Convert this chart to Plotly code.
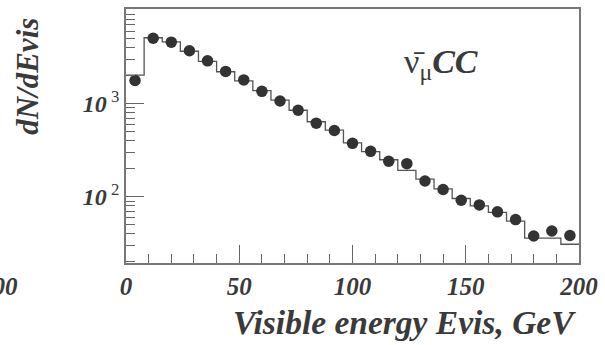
import numpy as np
import plotly.graph_objects as go

# bin edges (GeV) and contents
bin_edges = [0, 8, 16, 24, 32, 40, 48, 56, 64, 72, 80, 88, 96, 104, 112, 120, 128,
             136, 144, 152, 160, 168, 176, 184, 192, 200]
data_counts = [1775, 5040, 4570, 3700, 2880, 2220, 1800, 1355, 1068, 851, 618, 515,
               375, 308, 241, 227, 148, 120, 92, 82, 69, 57, 38, 43, 38.5]
mc_counts = [2020, 5100, 4600, 3650, 2850, 2200, 1760, 1380, 1090, 850, 640, 520,
             380, 305, 250, 192, 155, 122, 96, 80, 68, 55, 36, 36, 31]

x_ticks = [0, 50, 100, 150, 200]
x_minor = [10, 20, 30, 40, 60, 70, 80, 90, 110, 120, 130, 140, 160, 170, 180, 190]
y_ticks = [100, 1000]
y_ticktext = ["<b><i>10</i></b><sup> 2</sup>", "<b><i>10</i></b><sup> 3</sup>"]
y_minor = [20, 30, 40, 50, 60, 70, 80, 90, 200, 300, 400, 500, 600, 700, 800, 900,
           2000, 3000, 4000, 5000, 6000, 7000, 8000, 9000]

edges = np.array(bin_edges, dtype=float)
centers = (edges[:-1] + edges[1:]) / 2

TXT = "#3a3a3a"
FONT = "Liberation Serif"

fig = go.Figure()
fig.add_trace(go.Scatter(
    x=edges, y=list(mc_counts) + [mc_counts[-1]], mode="lines", line_shape="hv",
    line=dict(color="#555555", width=1.3), showlegend=False, hoverinfo="skip"))
fig.add_trace(go.Scatter(
    x=centers, y=data_counts, mode="markers",
    marker=dict(color="#333333", size=11.5, line=dict(width=0)), showlegend=False))

fig.update_layout(
    width=605, height=345, margin=dict(l=126, r=25, t=7, b=82),
    paper_bgcolor="white", plot_bgcolor="white",
    font=dict(family=FONT, color=TXT),
    xaxis=dict(range=[0, 200], tickvals=x_ticks,
               ticktext=[f"<b><i>{v}</i></b>" for v in x_ticks],
               ticks="inside", ticklen=18, tickwidth=1.2, tickcolor="#666",
               showline=True, linecolor="#777", linewidth=1.5, mirror=True,
               showgrid=False, zeroline=False,
               tickfont=dict(size=25, family=FONT, color=TXT),
               minor=dict(tickvals=x_minor, ticks="inside", ticklen=9,
                          tickwidth=1.2, tickcolor="#666", showgrid=False)),
    yaxis=dict(type="log", range=[1.29, 4.016], tickvals=y_ticks, ticktext=y_ticktext,
               ticks="inside", ticklen=18, tickwidth=1.2, tickcolor="#666",
               showline=True, linecolor="#777", linewidth=1.5, mirror=True,
               showgrid=False, zeroline=False,
               tickfont=dict(size=24, family=FONT, color=TXT),
               minor=dict(tickvals=y_minor, ticks="inside", ticklen=9,
                          tickwidth=1.2, tickcolor="#666", showgrid=False)),
)

fig.add_annotation(xref="paper", yref="paper", x=-0.218, y=0.734, textangle=-90,
                   xanchor="center", yanchor="middle",
                   text="<b><i>dN/dEvis</i></b>", showarrow=False,
                   font=dict(size=31, family=FONT, color=TXT))
fig.add_annotation(xref="paper", yref="paper", x=0.6145, y=-0.234,
                   xanchor="center", yanchor="middle",
                   text="<b><i>Visible energy Evis, GeV</i></b>", showarrow=False,
                   font=dict(size=33.5, family=FONT, color=TXT))
fig.add_annotation(xref="paper", yref="paper", x=0.695, y=0.785,
                   xanchor="center", yanchor="middle",
                   text="\u03bd\u0304<sub>\u03bc</sub><b><i>CC</i></b>", showarrow=False,
                   font=dict(size=34, family=FONT, color=TXT))
fig.add_annotation(xref="paper", yref="paper", x=-0.234, y=-0.094,
                   xanchor="right", yanchor="middle",
                   text="<b><i>200</i></b>", showarrow=False,
                   font=dict(size=25, family=FONT, color=TXT))

fig.write_html("out.html")
